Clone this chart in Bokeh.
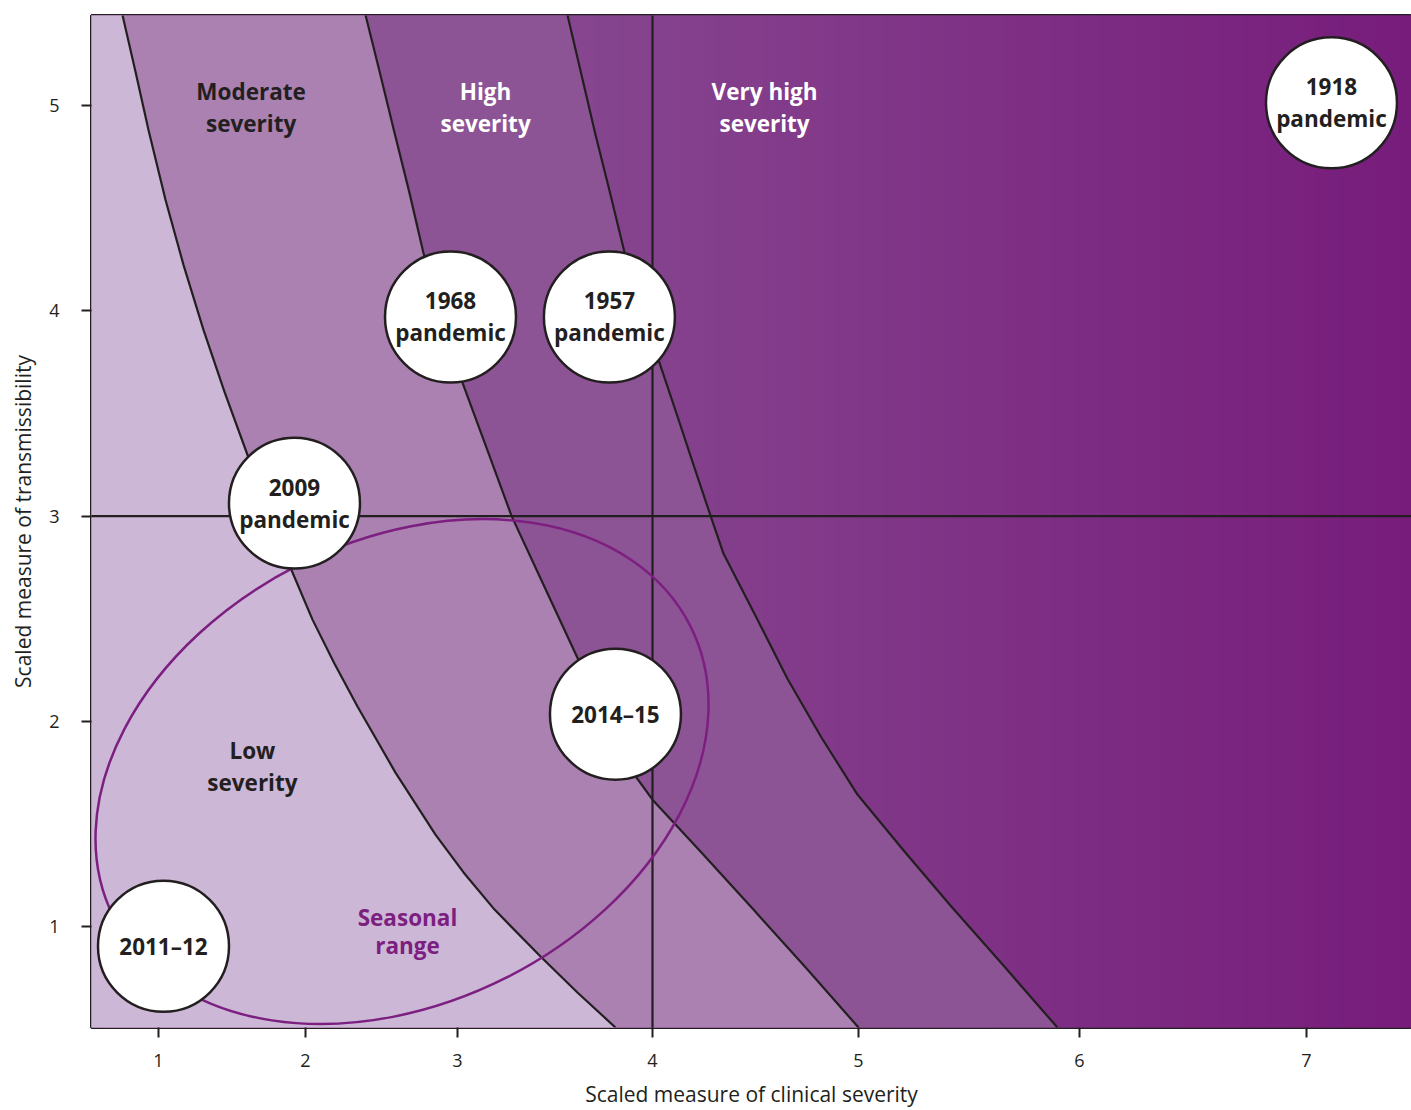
import numpy as np
from bokeh.plotting import figure
from bokeh.models import Range1d, FixedTicker
from bokeh.core.properties import value
from bokeh.embed import file_html
from bokeh.resources import INLINE

# ---------------- data ----------------
x_tick_values = [1, 2, 3, 4, 5, 6, 7]
# the source's severity axis is not evenly spaced: where each tick sits along the axis
x_tick_positions = [0.67, 2.14, 3.66, 5.61, 7.67, 9.88, 12.15]
y_tick_values = [1, 2, 3, 4, 5]

x_title = "Scaled measure of clinical severity"
y_title = "Scaled measure of transmissibility"

# boundary between low and moderate severity (severity, transmissibility)
low_mod_sev = [0.755, 0.844, 0.932, 1.048, 1.170, 1.306, 1.449, 1.605, 1.748, 1.898,
               2.046, 2.191, 2.342, 2.592, 2.855, 3.031, 3.190, 3.426, 3.615, 3.810]
low_mod_tr = [5.443, 5.165, 4.883, 4.541, 4.225, 3.908, 3.606, 3.299, 3.021, 2.748,
              2.495, 2.280, 2.071, 1.749, 1.447, 1.262, 1.081, 0.852, 0.677, 0.506]

# boundary between moderate and high severity
mod_high_sev = [2.395, 2.493, 2.586, 2.684, 2.776, 3.026, 3.149, 3.277, 3.441, 3.615,
                3.918, 4.000, 4.233, 4.490, 4.748, 5.000]
mod_high_tr = [5.443, 5.151, 4.868, 4.576, 4.283, 3.650, 3.333, 3.001, 2.665, 2.309,
               1.725, 1.617, 1.364, 1.081, 0.794, 0.506]

# boundary between high and very high severity
high_vh_sev = [3.564, 3.636, 3.708, 3.785, 3.856, 4.034, 4.117, 4.199, 4.282, 4.345,
               4.500, 4.655, 4.820, 4.995, 5.208, 5.416, 5.656, 5.900]
high_vh_tr = [5.443, 5.151, 4.858, 4.566, 4.288, 3.747, 3.499, 3.250, 3.001, 2.816,
              2.514, 2.207, 1.920, 1.642, 1.364, 1.101, 0.808, 0.506]

# reference cross lines
ref_sev = 4
ref_tr = 3

# influenza seasons / pandemics
event_labels = ["1918\npandemic", "1968\npandemic", "1957\npandemic",
                "2009\npandemic", "2014\u201315", "2011\u201312"]
event_sev = [7.110, 2.954, 3.779, 1.925, 3.810, 1.034]
event_tr = [5.015, 3.971, 3.971, 3.063, 2.034, 0.902]

# severity band labels
band_labels = ["Moderate\nseverity", "High\nseverity", "Very high\nseverity", "Low\nseverity"]
band_sev = [1.630, 3.144, 4.544, 1.639]
band_tr = [4.990, 4.990, 4.990, 1.778]

# seasonal range
seasonal_label = "Seasonal\nrange"
seasonal_label_sev = 2.671
seasonal_label_tr = 0.975
seasonal_center_sev = 2.635
seasonal_center_tr = 1.754

# ---------------- styling ----------------
DARK = "#231F20"
LOW_C = "#CCB7D6"
MOD_C = "#AA81B1"
HIGH_C = "#8D5495"
VH_LEFT = (0x86, 0x46, 0x8F)
VH_RIGHT = (0x77, 0x1C, 0x7B)
SEASON_C = "#7C1F80"
FONT = "Open Sans"

X_LO, X_HI = 0.0, 13.20
Y_LO, Y_HI = 0.506, 5.441


def sev_to_pos(s):
    s = np.asarray(s, dtype=float)
    xs = np.array(x_tick_values, dtype=float)
    ps = np.array(x_tick_positions, dtype=float)
    lo = (ps[1] - ps[0]) / (xs[1] - xs[0])
    hi = (ps[-1] - ps[-2]) / (xs[-1] - xs[-2])
    out = np.interp(s, xs, ps)
    out = np.where(s < xs[0], ps[0] + (s - xs[0]) * lo, out)
    out = np.where(s > xs[-1], ps[-1] + (s - xs[-1]) * hi, out)
    return out


p = figure(width=1411, height=1110, output_backend="svg", toolbar_location=None,
           x_range=Range1d(X_LO, X_HI), y_range=Range1d(Y_LO, Y_HI),
           min_border_left=91, min_border_right=0, min_border_top=15, min_border_bottom=82)
p.xgrid.visible = False
p.ygrid.visible = False
p.background_fill_color = "white"
p.border_fill_color = "white"
p.outline_line_color = DARK
p.outline_line_width = 3

# gradient background (very high severity region); strips overlap to avoid seams
edges = np.linspace(X_LO, X_HI, 111)
step = edges[1] - edges[0]
g0, g1 = sev_to_pos(high_vh_sev[0]).item(), X_HI
cols = []
for a, b in zip(edges[:-1], edges[1:]):
    t = min(max(((a + b) / 2 - g0) / (g1 - g0), 0.0), 1.0)
    c = tuple(int(round(VH_LEFT[k] + (VH_RIGHT[k] - VH_LEFT[k]) * t)) for k in range(3))
    cols.append("#%02X%02X%02X" % c)
p.quad(left=edges[:-1], right=edges[1:] + step, bottom=Y_LO - 1, top=Y_HI + 1,
       fill_color=cols, line_color=None)


def band_poly(sev, tr):
    xs = list(sev_to_pos(sev)) + [X_LO - 1, X_LO - 1]
    ys = list(tr) + [Y_LO - 1, Y_HI + 1]
    return xs, ys


for sev, tr, col in [(high_vh_sev, high_vh_tr, HIGH_C),
                     (mod_high_sev, mod_high_tr, MOD_C),
                     (low_mod_sev, low_mod_tr, LOW_C)]:
    xs, ys = band_poly(sev, tr)
    p.patch(xs, ys, fill_color=col, line_color=None)

for sev, tr in [(low_mod_sev, low_mod_tr), (mod_high_sev, mod_high_tr), (high_vh_sev, high_vh_tr)]:
    p.line(sev_to_pos(sev), tr, line_color=DARK, line_width=2.2, line_join="round")

# reference cross lines
rx = sev_to_pos(ref_sev).item()
p.segment(x0=[rx, X_LO - 1], y0=[Y_LO - 1, ref_tr], x1=[rx, X_HI + 1], y1=[Y_HI + 1, ref_tr],
          line_color=DARK, line_width=2.2)

# seasonal range ellipse
p.ellipse(x=[sev_to_pos(seasonal_center_sev).item()], y=[seasonal_center_tr],
          width=646, height=462, angle=0.468,
          width_units="screen", height_units="screen",
          fill_color=None, line_color=SEASON_C, line_width=2.5)

# event circles
p.scatter(x=sev_to_pos(event_sev), y=event_tr, marker="circle", size=131,
          fill_color="white", line_color=DARK, line_width=2.5)


def draw_text(labels, xs, ys, colors, size, spacing):
    tx, ty, tt, off, tc = [], [], [], [], []
    for lab, x, y, c in zip(labels, xs, ys, colors):
        lines = lab.split("\n")
        n = len(lines)
        for i, line in enumerate(lines):
            tx.append(x)
            ty.append(y)
            tt.append(line)
            off.append((i - (n - 1) / 2) * spacing)
            tc.append(c)
    p.text(x=tx, y=ty, text=tt, y_offset=off, text_color=tc,
           text_font=value(FONT), text_font_style="bold", text_font_size=size,
           text_align="center", text_baseline="middle")


draw_text(event_labels, sev_to_pos(event_sev), event_tr, [DARK] * len(event_labels), "22.5px", 32)
draw_text(band_labels, sev_to_pos(band_sev), band_tr, [DARK, "#FFFFFF", "#FFFFFF", DARK], "22.5px", 32)
draw_text([seasonal_label], sev_to_pos([seasonal_label_sev]), [seasonal_label_tr], [SEASON_C], "22.5px", 28)

# axes
p.xaxis.ticker = FixedTicker(ticks=x_tick_positions)
p.xaxis.major_label_overrides = {float(ps): str(v) for ps, v in zip(x_tick_positions, x_tick_values)}
p.yaxis.ticker = FixedTicker(ticks=y_tick_values)
p.xaxis.axis_label = x_title
p.yaxis.axis_label = y_title
for ax in (p.xaxis, p.yaxis):
    ax.axis_line_color = None
    ax.major_tick_out = 10
    ax.major_tick_in = 0
    ax.minor_tick_out = 0
    ax.minor_tick_in = 0
    ax.major_tick_line_color = DARK
    ax.major_tick_line_width = 2
    ax.major_label_text_font = FONT
    ax.major_label_text_font_size = "18px"
    ax.major_label_text_color = DARK
    ax.axis_label_text_font = FONT
    ax.axis_label_text_font_size = "21px"
    ax.axis_label_text_font_style = "normal"
    ax.axis_label_text_color = DARK
p.xaxis.major_label_standoff = 16
p.xaxis.axis_label_standoff = 10
p.yaxis.major_label_standoff = 22
p.yaxis.axis_label_standoff = 9

open("out.html", "w").write(file_html(p, INLINE))
